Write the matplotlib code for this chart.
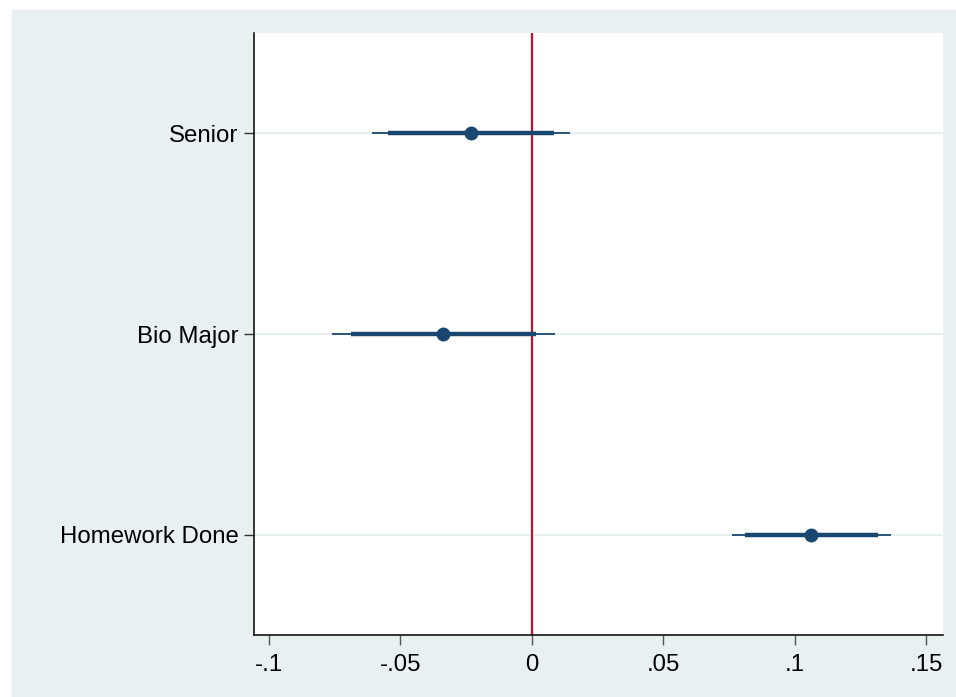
import matplotlib
matplotlib.use("Agg")
import matplotlib.pyplot as plt
from matplotlib.patches import Rectangle

# coefficients with 95% (thin) and 90% (thick) intervals
labels = ["Senior", "Bio Major", "Homework Done"]
coef = [-0.0232, -0.0337, 0.1061]
ci95_lo = [-0.0608, -0.0759, 0.0762]
ci95_hi = [0.0144, 0.0087, 0.1364]
ci90_lo = [-0.0548, -0.0689, 0.0810]
ci90_hi = [0.0084, 0.0015, 0.1314]
xticks = [-0.1, -0.05, 0, 0.05, 0.1, 0.15]
xticklabels = ["-.1", "-.05", "0", ".05", ".1", ".15"]

NAVY = "#1a476f"
RED = "#c8102e"
BG = "#e8f0f2"

plt.rcParams.update({"font.family": ["Liberation Sans", "DejaVu Sans"],
                     "font.size": 17.3})

W, H = 956, 697
fig = plt.figure(figsize=(W / 100, H / 100), dpi=100, facecolor="white")
fig.patches.append(Rectangle((12 / W, 0), (W - 12) / W, (H - 10) / H,
                             transform=fig.transFigure, color=BG, zorder=-10))
ax = fig.add_axes([254 / W, 1 - 635 / H, (943 - 254) / W, (635 - 33) / H])
ax.set_facecolor("white")

ypos = list(range(1, len(labels) + 1))
for y in ypos:
    ax.axhline(y, color="#e6eef0", lw=1.5, zorder=0)
ax.axvline(0, color=RED, lw=1.6, zorder=1)

for y, c, a, b, lo, hi in zip(ypos, coef, ci95_lo, ci95_hi, ci90_lo, ci90_hi):
    ax.plot([a, b], [y, y], color=NAVY, lw=1.3, solid_capstyle="butt", zorder=2)
    ax.plot([lo, hi], [y, y], color=NAVY, lw=3.2, solid_capstyle="butt", zorder=3)
    ax.plot(c, y, "o", color=NAVY, ms=9, zorder=4)

ax.set_xlim(-0.1057, 0.1563)
ax.set_ylim(len(labels) + 0.5, 0.5)
ax.set_yticks(ypos)
ax.set_yticklabels(labels)
ax.set_xticks(xticks)
ax.set_xticklabels(xticklabels)

for s in ["top", "right"]:
    ax.spines[s].set_visible(False)
for s in ["left", "bottom"]:
    ax.spines[s].set_color("black")
    ax.spines[s].set_linewidth(1.1)
ax.tick_params(axis="y", length=7, width=1, color="#333333", pad=4)
ax.tick_params(axis="x", length=7.5, width=1, color="#555555", pad=6)

fig.savefig("out.png", dpi=100, facecolor=fig.get_facecolor())
